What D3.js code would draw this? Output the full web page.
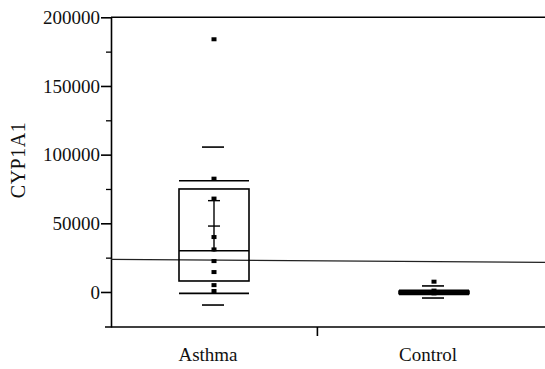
<!DOCTYPE html>
<html lang="en">
<head>
    <meta charset="UTF-8"/>
    <title>CYP1A1 box plot</title>
    <script src="https://d3js.org/d3.v7.min.js"></script>
    <style>
        body { margin: 0; background: #fff; }
    </style>
</head>
<body>
    <script>
        var w = 545;
        var h = 369;

        // categories and summary values
        const categories = ["Asthma", "Control"];
        const yTicks = [0, 50000, 100000, 150000, 200000];
        const yMinorTicks = [25000, 75000, 125000, 175000];

        const boxQ1 = [8000, -1200];
        const boxMedian = [30000, -300];
        const boxQ3 = [75000, 600];
        const whiskerLow = [-1000, -1800];
        const whiskerHigh = [81000, 1200];
        const meanValues = [48000, 0];
        const errLow = [29500, -800];
        const errHigh = [66500, 800];
        const limitLow = [-9500, -4400];
        const limitHigh = [105500, 4400];
        const overallMean = 23800;

        const asthmaPoints = [184000, 82500, 68000, 40000, 31000, 22500, 14500, 5000, 700];
        const controlPoints = [7500, 1000, 0, -500, -1000];

        const serif = "'Liberation Serif', 'Times New Roman', Times, 'DejaVu Serif', serif";

        var svg = d3.select("body")
                    .append("svg")
                    .attr("width", w)
                    .attr("height", h);

        const plotLeft = 111, plotRight = 545, plotTop = 17.3, plotBottom = 327;

        const yScale = d3.scaleLinear()
            .domain([-25500, 200000])
            .range([plotBottom, plotTop]);

        const xScale = d3.scalePoint()
            .domain(categories)
            .range([214, 434]);

        const boxW = 70;
        const capW = 22;
        const ink = "#000";

        // === AXES ===
        svg.append("g")
            .attr("transform", "translate(" + plotLeft + ",0)")
            .call(d3.axisLeft(yScale).tickValues(yTicks).tickSize(10).tickSizeOuter(0).tickPadding(1)
                .tickFormat(d3.format("d")))
            .attr("font-family", serif)
            .attr("font-size", 19)
            .call(g => g.selectAll("text").attr("fill", "#111"))
            .call(g => g.selectAll("line, path").attr("stroke", ink).attr("stroke-width", 1.6));

        svg.append("g")
            .attr("transform", "translate(" + plotLeft + ",0)")
            .call(d3.axisLeft(yScale).tickValues(yMinorTicks).tickSize(5).tickFormat(""))
            .call(g => g.select(".domain").remove())
            .call(g => g.selectAll("line").attr("stroke", ink).attr("stroke-width", 1.3));

        // top frame line and bottom line
        svg.append("line")
            .attr("x1", plotLeft).attr("x2", plotRight)
            .attr("y1", yScale(200000)).attr("y2", yScale(200000))
            .attr("stroke", ink).attr("stroke-width", 1.6);

        svg.append("line")
            .attr("x1", plotLeft - 6).attr("x2", plotRight)
            .attr("y1", plotBottom).attr("y2", plotBottom)
            .attr("stroke", ink).attr("stroke-width", 1.6);

        // separator tick between the groups
        const sepX = xScale("Asthma") + (xScale("Control") - xScale("Asthma")) * 0.47;
        svg.append("line")
            .attr("x1", sepX).attr("x2", sepX)
            .attr("y1", plotBottom).attr("y2", plotBottom + 9)
            .attr("stroke", ink).attr("stroke-width", 1.6);

        // category labels
        svg.selectAll(".cat")
            .data(categories)
            .enter()
            .append("text")
            .attr("class", "cat")
            .attr("x", d => xScale(d) - 6)
            .attr("y", 361)
            .attr("text-anchor", "middle")
            .attr("font-family", serif)
            .attr("font-size", 19)
            .attr("fill", "#111")
            .text(d => d);

        // y title
        svg.append("text")
            .attr("transform", "translate(25,160) rotate(-90)")
            .attr("text-anchor", "middle")
            .attr("font-family", serif)
            .attr("font-size", 20)
            .attr("letter-spacing", "0.5px")
            .attr("fill", "#111")
            .text("CYP1A1");

        // overall mean line
        svg.append("line")
            .attr("x1", plotLeft).attr("x2", plotRight)
            .attr("y1", yScale(overallMean)).attr("y2", yScale(overallMean) + 3)
            .attr("stroke", "#222").attr("stroke-width", 1.2);

        // === BOXES ===
        const groups = svg.selectAll(".grp")
            .data(categories)
            .enter()
            .append("g")
            .attr("class", "grp");

        groups.append("rect")
            .attr("x", d => xScale(d) - boxW / 2)
            .attr("y", (d, i) => yScale(boxQ3[i]))
            .attr("width", boxW)
            .attr("height", (d, i) => yScale(boxQ1[i]) - yScale(boxQ3[i]))
            .attr("fill", "none")
            .attr("stroke", ink)
            .attr("stroke-width", 1.6);

        groups.append("line")
            .attr("x1", d => xScale(d) - boxW / 2).attr("x2", d => xScale(d) + boxW / 2)
            .attr("y1", (d, i) => yScale(boxMedian[i])).attr("y2", (d, i) => yScale(boxMedian[i]))
            .attr("stroke", ink).attr("stroke-width", 1.6);

        // whisker caps (box width)
        [whiskerLow, whiskerHigh].forEach(arr => {
            groups.append("line")
                .attr("x1", d => xScale(d) - boxW / 2).attr("x2", d => xScale(d) + boxW / 2)
                .attr("y1", (d, i) => yScale(arr[i])).attr("y2", (d, i) => yScale(arr[i]))
                .attr("stroke", ink).attr("stroke-width", 1.6);
        });

        // short limit dashes
        [limitLow, limitHigh].forEach(arr => {
            groups.append("line")
                .attr("x1", d => xScale(d) - capW / 2 - 1).attr("x2", d => xScale(d) + capW / 2 - 1)
                .attr("y1", (d, i) => yScale(arr[i])).attr("y2", (d, i) => yScale(arr[i]))
                .attr("stroke", ink).attr("stroke-width", 1.6);
        });

        // mean with error bar
        groups.append("line")
            .attr("x1", d => xScale(d)).attr("x2", d => xScale(d))
            .attr("y1", (d, i) => yScale(errHigh[i])).attr("y2", (d, i) => yScale(errLow[i]))
            .attr("stroke", ink).attr("stroke-width", 1.4);

        groups.append("line")
            .attr("x1", d => xScale(d) - 6).attr("x2", d => xScale(d) + 6)
            .attr("y1", (d, i) => yScale(errHigh[i])).attr("y2", (d, i) => yScale(errHigh[i]))
            .attr("stroke", ink).attr("stroke-width", 1.4);

        groups.append("line")
            .attr("x1", d => xScale(d) - 6).attr("x2", d => xScale(d) + 6)
            .attr("y1", (d, i) => yScale(meanValues[i])).attr("y2", (d, i) => yScale(meanValues[i]))
            .attr("stroke", ink).attr("stroke-width", 1.4);

        // === POINTS ===
        const pts = asthmaPoints.map(v => ({ cat: "Asthma", v: v }))
            .concat(controlPoints.map(v => ({ cat: "Control", v: v })));

        svg.selectAll(".pt")
            .data(pts)
            .enter()
            .append("rect")
            .attr("class", "pt")
            .attr("x", d => xScale(d.cat) - 2.5)
            .attr("y", d => yScale(d.v) - 2)
            .attr("width", 5)
            .attr("height", 4)
            .attr("fill", ink);
    </script>
</body>
</html>
